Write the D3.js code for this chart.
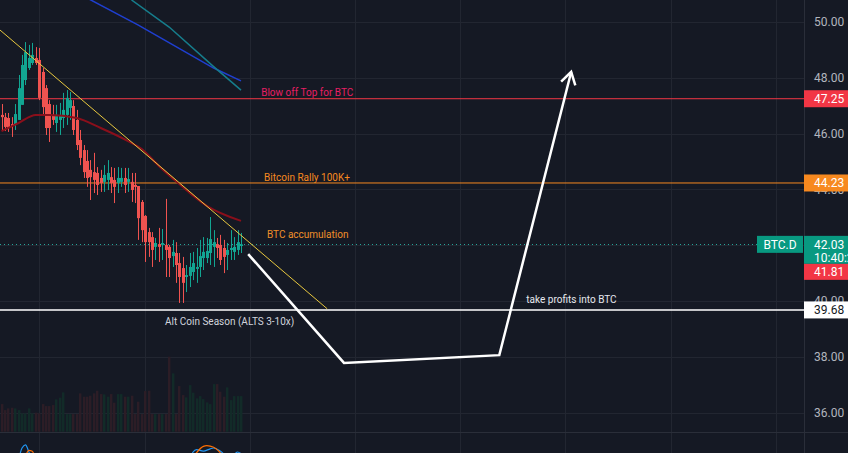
<!DOCTYPE html>
<html>
<head>
<meta charset="utf-8">
<script src="https://cdn.jsdelivr.net/npm/d3@7"></script>
<style>
  html, body { margin: 0; padding: 0; background: #151924; overflow: hidden; }
  svg { display: block; font-family: Roboto, "Open Sans", sans-serif; }
  .axis-label { fill: #b2b5be; font-size: 12px; }
  .note { font-size: 10px; }
</style>
</head>
<body>
<div id="chart"></div>
<script>
// candles [open, high, low, close] for BTC.D
const candles = [
  [46.67,47.06,46.09,46.59],[46.59,46.74,46.09,46.24],[46.56,46.74,46.06,46.20],[46.34,46.59,45.88,46.27],
  [46.34,47.06,46.13,46.70],[46.49,48.10,46.49,47.63],[47.03,48.82,47.03,48.46],[47.92,49.28,47.74,48.92],
  [48.35,49.18,48.28,48.71],[48.53,49.25,48.46,48.82],[48.71,49.10,48.46,48.53],[48.64,49.07,47.20,47.28],
  [48.21,48.35,46.67,46.95],[47.63,47.74,45.95,46.20],[47.06,47.20,45.70,46.20],[46.67,47.03,46.31,46.49],
  [46.38,47.03,46.06,46.67],[46.49,47.10,45.95,46.67],[46.56,47.46,46.20,46.85],[46.67,47.56,46.31,47.28],
  [46.92,47.49,46.49,47.20],[46.99,47.20,45.95,46.13],[46.49,46.85,45.41,45.59],[45.77,46.13,44.87,45.13],
  [45.41,45.59,44.41,44.62],[45.02,45.41,44.09,44.41],[44.70,45.05,43.62,44.44],[44.62,45.31,43.87,44.34],
  [44.59,44.80,43.80,44.16],[44.41,44.70,43.91,44.23],[44.27,44.87,43.91,44.52],[44.34,45.05,43.98,44.59],
  [44.44,44.80,43.87,44.23],[44.34,44.77,43.51,44.09],[44.23,44.80,43.87,44.41],[44.27,44.77,44.09,44.41],
  [44.41,44.77,43.87,44.16],[44.27,44.77,43.91,44.37],[44.27,44.59,43.55,43.98],[44.16,44.59,43.51,44.09],
  [44.12,44.12,42.19,42.97],[43.55,43.62,42.11,42.54],[43.05,43.08,41.40,42.11],[42.47,42.62,41.58,42.11],
  [42.29,42.47,41.22,41.83],[41.94,42.26,41.47,42.08],[42.04,42.62,41.40,41.94],[42.01,42.58,41.47,42.08],
  [42.01,43.66,40.86,41.83],[41.94,42.01,40.86,41.54],[41.61,42.19,41.22,41.76],[41.72,42.11,40.65,41.29],
  [41.36,41.72,39.93,40.86],[41.18,41.58,39.93,40.65],[40.86,41.29,40.32,40.93],[40.90,41.72,40.50,41.22],
  [41.04,41.76,40.75,41.36],[41.15,41.90,40.65,41.22],[41.22,42.19,40.86,41.61],[41.54,42.29,41.11,41.76],
  [41.54,42.26,41.36,41.79],[41.72,43.01,41.29,42.22],[41.94,42.54,41.22,42.11],[42.04,42.26,41.54,41.90],
  [42.01,42.37,41.29,41.47],[41.90,42.19,41.00,41.58],[41.65,42.08,41.11,41.83],[41.83,42.54,41.47,41.90],
  [41.76,42.29,41.47,41.94],[41.83,42.54,41.65,42.11],[41.97,42.44,41.72,42.03]
];

const volumes = [83,65,70,72,70,65,55,55,70,55,57,55,83,77,77,80,97,102,118,53,53,53,53,115,105,105,108,
  115,123,113,112,105,113,87,113,113,105,105,108,53,90,53,122,123,53,53,53,53,53,225,175,53,137,110,103,
  140,117,100,107,98,88,83,143,143,120,105,133,95,107,107,107];

// moving averages (bar index, value)
const maRedIdx = [0, 5, 10, 14, 22, 29, 37, 41, 46, 52, 60, 70];
const maRedVal = [46.09, 46.38, 46.67, 46.67, 46.56, 46.20, 45.73, 45.45, 44.84, 44.19, 43.41, 42.87];
const maBlueIdx = [25, 40, 62, 70];
const maBlueVal = [50.86, 49.89, 48.35, 47.89];
const maTealIdx = [38, 49, 62, 70];
const maTealVal = [50.79, 49.82, 48.40, 47.56];

// oscillator pane (mostly hidden below)
const oscBlueIdx = [0, 4, 6, 7, 8, 10, 20, 40, 54, 56, 57, 59, 61, 62, 64, 66, 68, 69, 70];
const oscBlueVal = [40, 60, 90, 94, 85, 55, 30, 20, 60, 85, 88, 86, 89, 90, 86, 80, 82, 85, 83];
const oscOrangeIdx = [0, 5, 7, 8, 9, 11, 25, 45, 55, 57, 59, 60, 62, 63, 65, 70];
const oscOrangeVal = [35, 55, 80, 87, 86, 60, 30, 25, 70, 84, 92, 93, 91, 88, 80, 75];

// drawings
const levelPrices = [47.25, 44.23, 39.68];
const lastPrice = 42.03;
const prevPrice = 41.81;
const countdown = "10:40:25";
const trendIdx = [-1, 95.2];
const trendVal = [49.77, 39.72];
const pathIdx = [72.1, 100.1, 145.5, 166.5];
const pathVal = [41.68, 37.78, 38.06, 48.21];
const noteText = ["Blow off Top for BTC", "Bitcoin Rally 100K+", "BTC accumulation", "Alt Coin Season (ALTS 3-10x)", "take profits into BTC"];
const noteIdx = [75.9, 76.75, 77.6, 47.8, 153.4];
const noteVal = [47.49, 44.41, 42.40, 39.25, 40.07];

const priceTicks = [36, 38, 40, 42, 44, 46, 48, 50];
const gridIdx = [11, 41.8, 72.5, 103.3, 134, 164.8, 195.6, 226.3];
const symbol = "BTC.D";

function drawChart(width, height, selector) {
  const up = "#12a592", down = "#ef5350";
  const gridColor = "#222631";
  const paneW = 804, paneH = 432;

  const x = d3.scaleLinear().domain([0, 70]).range([1.5, 241]);
  const y = d3.scaleLinear().domain([36, 50]).range([412.6, 22]);
  const yVol = d3.scaleLinear().domain([0, 300]).range([431.7, 331.7]);
  const yOsc = d3.scaleLinear().domain([0, 100]).range([520, 440]);

  const svg = d3.select(selector).append("svg")
    .attr("width", width).attr("height", height);

  svg.append("rect").attr("width", width).attr("height", height).attr("fill", "#151924");

  svg.append("defs").append("clipPath").attr("id", "pane")
    .append("rect").attr("width", paneW).attr("height", paneH);

  // grid
  const grid = svg.append("g");
  grid.selectAll(".hg").data(priceTicks).join("line")
    .attr("x1", 0).attr("x2", paneW)
    .attr("y1", d => Math.round(y(d)) + 0.5).attr("y2", d => Math.round(y(d)) + 0.5)
    .attr("stroke", gridColor);
  grid.selectAll(".vg").data(gridIdx).join("line")
    .attr("x1", d => Math.round(x(d)) + 0.5).attr("x2", d => Math.round(x(d)) + 0.5)
    .attr("y1", 0).attr("y2", height)
    .attr("stroke", gridColor);

  const pane = svg.append("g").attr("clip-path", "url(#pane)");

  // volume
  pane.selectAll(".vol").data(volumes).join("rect")
    .attr("x", (d, i) => Math.round(x(i)) - 1)
    .attr("width", 2.4)
    .attr("y", d => yVol(d))
    .attr("height", d => yVol(0) - yVol(d))
    .attr("fill", (d, i) => candles[i][3] >= candles[i][0] ? "#122b28" : "#2c1d26");

  // MAs
  const line = d3.line().x(d => x(d[0])).y(d => y(d[1])).curve(d3.curveMonotoneX);
  const straight = d3.line().x(d => x(d[0])).y(d => y(d[1]));
  pane.append("path").datum(d3.zip(maBlueIdx, maBlueVal)).attr("d", straight)
    .attr("fill", "none").attr("stroke", "#1f3fd0").attr("stroke-width", 1.5);
  pane.append("path").datum(d3.zip(maTealIdx, maTealVal)).attr("d", straight)
    .attr("fill", "none").attr("stroke", "#167d8c").attr("stroke-width", 1.5);

  // levels
  const levelColors = ["#f23645", "#f7891f", "#ffffff"];
  pane.selectAll(".lvl").data(levelPrices).join("line")
    .attr("x1", 0).attr("x2", paneW)
    .attr("y1", d => y(d)).attr("y2", d => y(d))
    .attr("stroke", (d, i) => levelColors[i])
    .attr("stroke-width", (d, i) => i === 2 ? 1.5 : 1);

  // last price dotted line
  pane.append("line")
    .attr("x1", 0).attr("x2", paneW)
    .attr("y1", Math.round(y(lastPrice)) + 0.5).attr("y2", Math.round(y(lastPrice)) + 0.5)
    .attr("stroke", "#26a69a").attr("stroke-dasharray", "1,3");

  // candles
  const cg = pane.append("g");
  cg.selectAll(".wick").data(candles).join("line")
    .attr("x1", (d, i) => Math.round(x(i)) + 0.5).attr("x2", (d, i) => Math.round(x(i)) + 0.5)
    .attr("y1", d => y(d[1])).attr("y2", d => y(d[2]))
    .attr("stroke", d => d[3] >= d[0] ? up : down);
  cg.selectAll(".body").data(candles).join("rect")
    .attr("x", (d, i) => Math.round(x(i)) - 1)
    .attr("width", 3)
    .attr("y", d => y(Math.max(d[0], d[3])))
    .attr("height", d => Math.max(1, Math.abs(y(d[0]) - y(d[3]))))
    .attr("fill", d => d[3] >= d[0] ? up : down);

  pane.append("path").datum(d3.zip(maRedIdx, maRedVal)).attr("d", line)
    .attr("fill", "none").attr("stroke", "#8a0f1b").attr("stroke-width", 2);

  // trend line
  pane.append("path").datum(d3.zip(trendIdx, trendVal))
    .attr("d", straight)
    .attr("fill", "none").attr("stroke", "#e8c83f").attr("stroke-width", 1);

  // arrow path
  const pts = d3.zip(pathIdx, pathVal).map(d => [x(d[0]), y(d[1])]);
  pane.append("path").attr("d", d3.line()(pts))
    .attr("fill", "none").attr("stroke", "#ffffff").attr("stroke-width", 2.5)
    .attr("stroke-linejoin", "miter");
  const tip = pts[pts.length - 1], prev = pts[pts.length - 2];
  const ang = Math.atan2(prev[1] - tip[1], prev[0] - tip[0]);
  const head = [ang - 0.55, ang + 0.55].map(a => [tip[0] + 14 * Math.cos(a), tip[1] + 14 * Math.sin(a)]);
  pane.append("path").attr("d", d3.line()([head[0], tip, head[1]]))
    .attr("fill", "none").attr("stroke", "#ffffff").attr("stroke-width", 2.5);

  // notes
  const noteColors = ["#e91e63", "#f7891f", "#f0902a", "#d1d4dc", "#e6e8ee"];
  pane.selectAll(".note").data(noteText).join("text")
    .attr("class", "note")
    .attr("x", (d, i) => x(noteIdx[i]))
    .attr("y", (d, i) => y(noteVal[i]))
    .attr("dy", "0.35em")
    .attr("fill", (d, i) => noteColors[i])
    .text(d => d);

  // separator + oscillator pane
  svg.append("line").attr("x1", 0).attr("x2", width).attr("y1", paneH + 0.5).attr("y2", paneH + 0.5)
    .attr("stroke", "#2a2e39");
  const osc = svg.append("g");
  osc.append("path").datum(d3.zip(oscBlueIdx, oscBlueVal))
    .attr("d", d3.line().x(d => x(d[0])).y(d => yOsc(d[1])).curve(d3.curveMonotoneX))
    .attr("fill", "none").attr("stroke", "#2196f3").attr("stroke-width", 1.2);
  osc.append("path").datum(d3.zip(oscOrangeIdx, oscOrangeVal))
    .attr("d", d3.line().x(d => x(d[0])).y(d => yOsc(d[1])).curve(d3.curveMonotoneX))
    .attr("fill", "none").attr("stroke", "#ff6d00").attr("stroke-width", 1.2);

  // price axis
  svg.append("rect").attr("x", paneW).attr("width", width - paneW).attr("height", paneH).attr("fill", "#151924");
  svg.append("line").attr("x1", paneW + 0.5).attr("x2", paneW + 0.5).attr("y1", 0).attr("y2", height)
    .attr("stroke", "#2a2e39");

  const axis = d3.axisRight(y).tickValues(priceTicks).tickSize(0).tickPadding(10).tickFormat(d3.format(".2f"));
  const ax = svg.append("g").attr("transform", `translate(${paneW},0)`).call(axis);
  ax.select(".domain").remove();
  ax.selectAll("text").attr("class", "axis-label").attr("fill", "#b2b5be").attr("font-size", 12)
    .attr("font-family", "Roboto, 'Open Sans', sans-serif");

  // price tags
  const tag = (val, bg, fg, h, lines) => {
    const top = y(val) - 8.5;
    svg.append("rect").attr("x", paneW).attr("y", top).attr("width", width - paneW).attr("height", h)
      .attr("fill", bg);
    lines.forEach((t, k) => {
      svg.append("text").attr("x", paneW + 10).attr("y", top + 8.5 + k * 13).attr("dy", "0.35em")
        .attr("fill", fg).attr("font-size", 12).text(t);
    });
  };
  tag(levelPrices[0], "#f23645", "#ffffff", 17, [levelPrices[0].toFixed(2)]);
  tag(levelPrices[1], "#f7891f", "#ffffff", 17, [levelPrices[1].toFixed(2)]);
  tag(lastPrice, "#089981", "#ffffff", 28, [lastPrice.toFixed(2), countdown]);
  svg.append("rect").attr("x", paneW).attr("y", y(lastPrice) - 8.5 + 28).attr("width", width - paneW).attr("height", 16)
    .attr("fill", "#f23645");
  svg.append("text").attr("x", paneW + 10).attr("y", y(lastPrice) - 8.5 + 36).attr("dy", "0.35em")
    .attr("fill", "#ffffff").attr("font-size", 12).text(prevPrice.toFixed(2));
  tag(levelPrices[2], "#ffffff", "#131722", 17, [levelPrices[2].toFixed(2)]);

  // symbol label
  svg.append("rect").attr("x", paneW - 47).attr("y", y(lastPrice) - 8.5).attr("width", 46).attr("height", 17)
    .attr("fill", "#089981");
  svg.append("text").attr("x", paneW - 24).attr("y", y(lastPrice)).attr("dy", "0.35em")
    .attr("text-anchor", "middle").attr("fill", "#ffffff").attr("font-size", 12).text(symbol);
}

drawChart(848, 453, "#chart");
</script>
</body>
</html>
